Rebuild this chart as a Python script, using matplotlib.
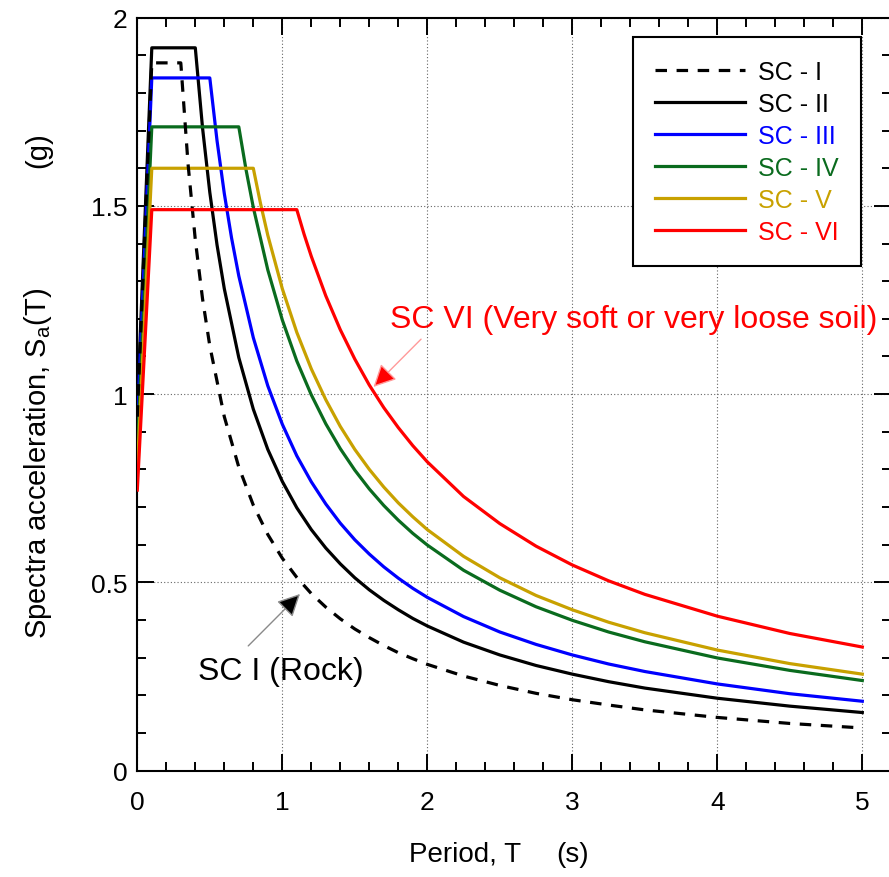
import matplotlib
matplotlib.use('Agg')
import matplotlib.pyplot as plt
from matplotlib.ticker import MultipleLocator

plt.rcParams['font.family'] = ['Liberation Sans', 'DejaVu Sans']
plt.rcParams['mathtext.fontset'] = 'custom'
plt.rcParams['mathtext.rm'] = 'Liberation Sans'
plt.rcParams['mathtext.it'] = 'Liberation Sans'

# ---------------- data ----------------
series_labels = ['SC - I', 'SC - II', 'SC - III', 'SC - IV', 'SC - V', 'SC - VI']
series_colors = ['#000000', '#000000', '#0000ff', '#0a6b1e', '#c8a100', '#ff0000']

T_I = [0, 0.1, 0.3, 0.35, 0.4, 0.45, 0.5, 0.6, 0.7, 0.8, 0.9, 1.0, 1.1, 1.2,
       1.3, 1.4, 1.5, 1.6, 1.7, 1.8, 1.9, 2.0, 2.25, 2.5, 2.75, 3.0, 3.25,
       3.5, 4.0, 4.5, 5.0]
Sa_I = [0.94, 1.88, 1.88, 1.611, 1.41, 1.253, 1.128, 0.94, 0.806, 0.705,
        0.627, 0.564, 0.513, 0.47, 0.434, 0.403, 0.376, 0.353, 0.332, 0.313,
        0.297, 0.282, 0.251, 0.226, 0.205, 0.188, 0.174, 0.161, 0.141, 0.125,
        0.113]

T_II = [0, 0.1, 0.4, 0.45, 0.5, 0.55, 0.6, 0.7, 0.8, 0.9, 1.0, 1.1, 1.2, 1.3,
        1.4, 1.5, 1.6, 1.7, 1.8, 1.9, 2.0, 2.25, 2.5, 2.75, 3.0, 3.25, 3.5,
        4.0, 4.5, 5.0]
Sa_II = [0.96, 1.92, 1.92, 1.707, 1.536, 1.396, 1.28, 1.097, 0.96, 0.853,
         0.768, 0.698, 0.64, 0.591, 0.549, 0.512, 0.48, 0.452, 0.427, 0.404,
         0.384, 0.341, 0.307, 0.279, 0.256, 0.236, 0.219, 0.192, 0.171, 0.154]

T_III = [0, 0.1, 0.5, 0.55, 0.6, 0.65, 0.7, 0.8, 0.9, 1.0, 1.1, 1.2, 1.3, 1.4,
         1.5, 1.6, 1.7, 1.8, 1.9, 2.0, 2.25, 2.5, 2.75, 3.0, 3.25, 3.5, 4.0,
         4.5, 5.0]
Sa_III = [0.92, 1.84, 1.84, 1.673, 1.533, 1.415, 1.314, 1.15, 1.022, 0.92,
          0.836, 0.767, 0.708, 0.657, 0.613, 0.575, 0.541, 0.511, 0.484, 0.46,
          0.409, 0.368, 0.335, 0.307, 0.283, 0.263, 0.23, 0.204, 0.184]

T_IV = [0, 0.1, 0.7, 0.75, 0.8, 0.9, 1.0, 1.1, 1.2, 1.3, 1.4, 1.5, 1.6, 1.7,
        1.8, 1.9, 2.0, 2.25, 2.5, 2.75, 3.0, 3.25, 3.5, 4.0, 4.5, 5.0]
Sa_IV = [0.855, 1.71, 1.71, 1.596, 1.496, 1.33, 1.197, 1.088, 0.998, 0.921,
         0.855, 0.798, 0.748, 0.704, 0.665, 0.63, 0.599, 0.532, 0.479, 0.435,
         0.399, 0.368, 0.342, 0.299, 0.266, 0.239]

T_V = [0, 0.1, 0.8, 0.85, 0.9, 1.0, 1.1, 1.2, 1.3, 1.4, 1.5, 1.6, 1.7, 1.8,
       1.9, 2.0, 2.25, 2.5, 2.75, 3.0, 3.25, 3.5, 4.0, 4.5, 5.0]
Sa_V = [0.80, 1.60, 1.60, 1.506, 1.422, 1.28, 1.164, 1.067, 0.985, 0.914,
        0.853, 0.80, 0.753, 0.711, 0.674, 0.64, 0.569, 0.512, 0.465, 0.427,
        0.394, 0.366, 0.32, 0.284, 0.256]

T_VI = [0, 0.1, 1.1, 1.15, 1.2, 1.3, 1.4, 1.5, 1.6, 1.7, 1.8, 1.9, 2.0, 2.25,
        2.5, 2.75, 3.0, 3.25, 3.5, 4.0, 4.5, 5.0]
Sa_VI = [0.745, 1.49, 1.49, 1.425, 1.366, 1.261, 1.171, 1.093, 1.024, 0.964,
         0.911, 0.863, 0.82, 0.728, 0.656, 0.596, 0.546, 0.504, 0.468, 0.41,
         0.364, 0.328]

x_ticks = [0, 1, 2, 3, 4, 5]
x_tick_labels = ['0', '1', '2', '3', '4', '5']
y_ticks = [0, 0.5, 1, 1.5, 2]
y_tick_labels = ['0', '0.5', '1', '1.5', '2']

# ---------------- figure ----------------
W, H = 889, 878
fig = plt.figure(figsize=(W / 100, H / 100), dpi=100)
ax = fig.add_axes([137.3 / W, (H - 771.5) / H, 5.2 * 145 / W, (771.5 - 18.7) / H])

Ts = [T_I, T_II, T_III, T_IV, T_V, T_VI]
Sas = [Sa_I, Sa_II, Sa_III, Sa_IV, Sa_V, Sa_VI]
zorders = [3.5, 3.0, 3.1, 3.2, 3.3, 3.6]
handles = []
for i in range(6):
    if i == 0:
        ln, = ax.plot(Ts[i], Sas[i], color=series_colors[i], lw=2.3,
                      dashes=(3.6, 3.0), label=series_labels[i], zorder=zorders[i])
    else:
        ln, = ax.plot(Ts[i], Sas[i], color=series_colors[i], lw=2.3,
                      label=series_labels[i], zorder=zorders[i])
    handles.append(ln)

ax.set_xlim(0, 5.2)
ax.set_ylim(0, 2)
ax.set_xticks(x_ticks)
ax.set_xticklabels(x_tick_labels)
ax.set_yticks(y_ticks)
ax.set_yticklabels(y_tick_labels)
ax.xaxis.set_minor_locator(MultipleLocator(0.2))
ax.yaxis.set_minor_locator(MultipleLocator(0.1))
ax.tick_params(which='both', direction='in', top=True, right=True, width=1.4,
               color='black')
ax.tick_params(which='major', length=12.2)
ax.tick_params(which='minor', length=6.2)
ax.tick_params(axis='y', which='major', labelsize=19, pad=7)
ax.tick_params(axis='x', which='major', labelsize=19, pad=14)
for sp in ax.spines.values():
    sp.set_linewidth(1.5)
ax.grid(True, which='major', linestyle=(0, (1, 2)), color='#666666', lw=0.8)
ax.set_axisbelow(True)

# axis labels
fig.text(38 / W, 1 - 463 / H, r'Spectra acceleration, S$_{\mathregular{a}}$(T)',
         rotation=90, ha='center', va='center', fontsize=21)
fig.text(38 / W, 1 - 150 / H, '(g)', rotation=90, ha='center', va='center',
         fontsize=21)
fig.text(465 / W, 1 - 855 / H, 'Period, T', ha='center', va='center', fontsize=20)
fig.text(573 / W, 1 - 855 / H, '(s)', ha='center', va='center', fontsize=20)

# legend
leg = ax.legend(handles=handles, loc='upper right',
                bbox_to_anchor=(861 / W, 1 - 38 / H), bbox_transform=fig.transFigure,
                fontsize=18, handlelength=3.6, handletextpad=0.5,
                labelspacing=0.32, borderpad=0.9, borderaxespad=0,
                fancybox=False, framealpha=1, edgecolor='black',
                labelcolor='linecolor')
leg.get_frame().set_linewidth(1.5)
leg.set_zorder(10)

# annotations
ax.text(3.425, 1.20, 'SC VI (Very soft or very loose soil)', color='#ff0000',
        fontsize=23, ha='center', va='center', zorder=11)
ax.annotate('', xy=(1.629, 1.019), xytext=(1.957, 1.146),
            arrowprops=dict(arrowstyle='-|>,head_length=0.6,head_width=0.3',
                            fc='#ff0000', ec='#ff9a9a', lw=1.0,
                            shrinkA=0, shrinkB=0, mutation_scale=23), zorder=11)
ax.text(0.993, 0.264, 'SC I (Rock)', color='black', fontsize=23,
        ha='center', va='center', zorder=11)
ax.annotate('', xy=(1.122, 0.469), xytext=(0.765, 0.331),
            arrowprops=dict(arrowstyle='-|>,head_length=0.6,head_width=0.3',
                            fc='#000000', ec='#8a8a8a', lw=1.0,
                            shrinkA=0, shrinkB=0, mutation_scale=23), zorder=11)

fig.savefig('out.png', dpi=100)
